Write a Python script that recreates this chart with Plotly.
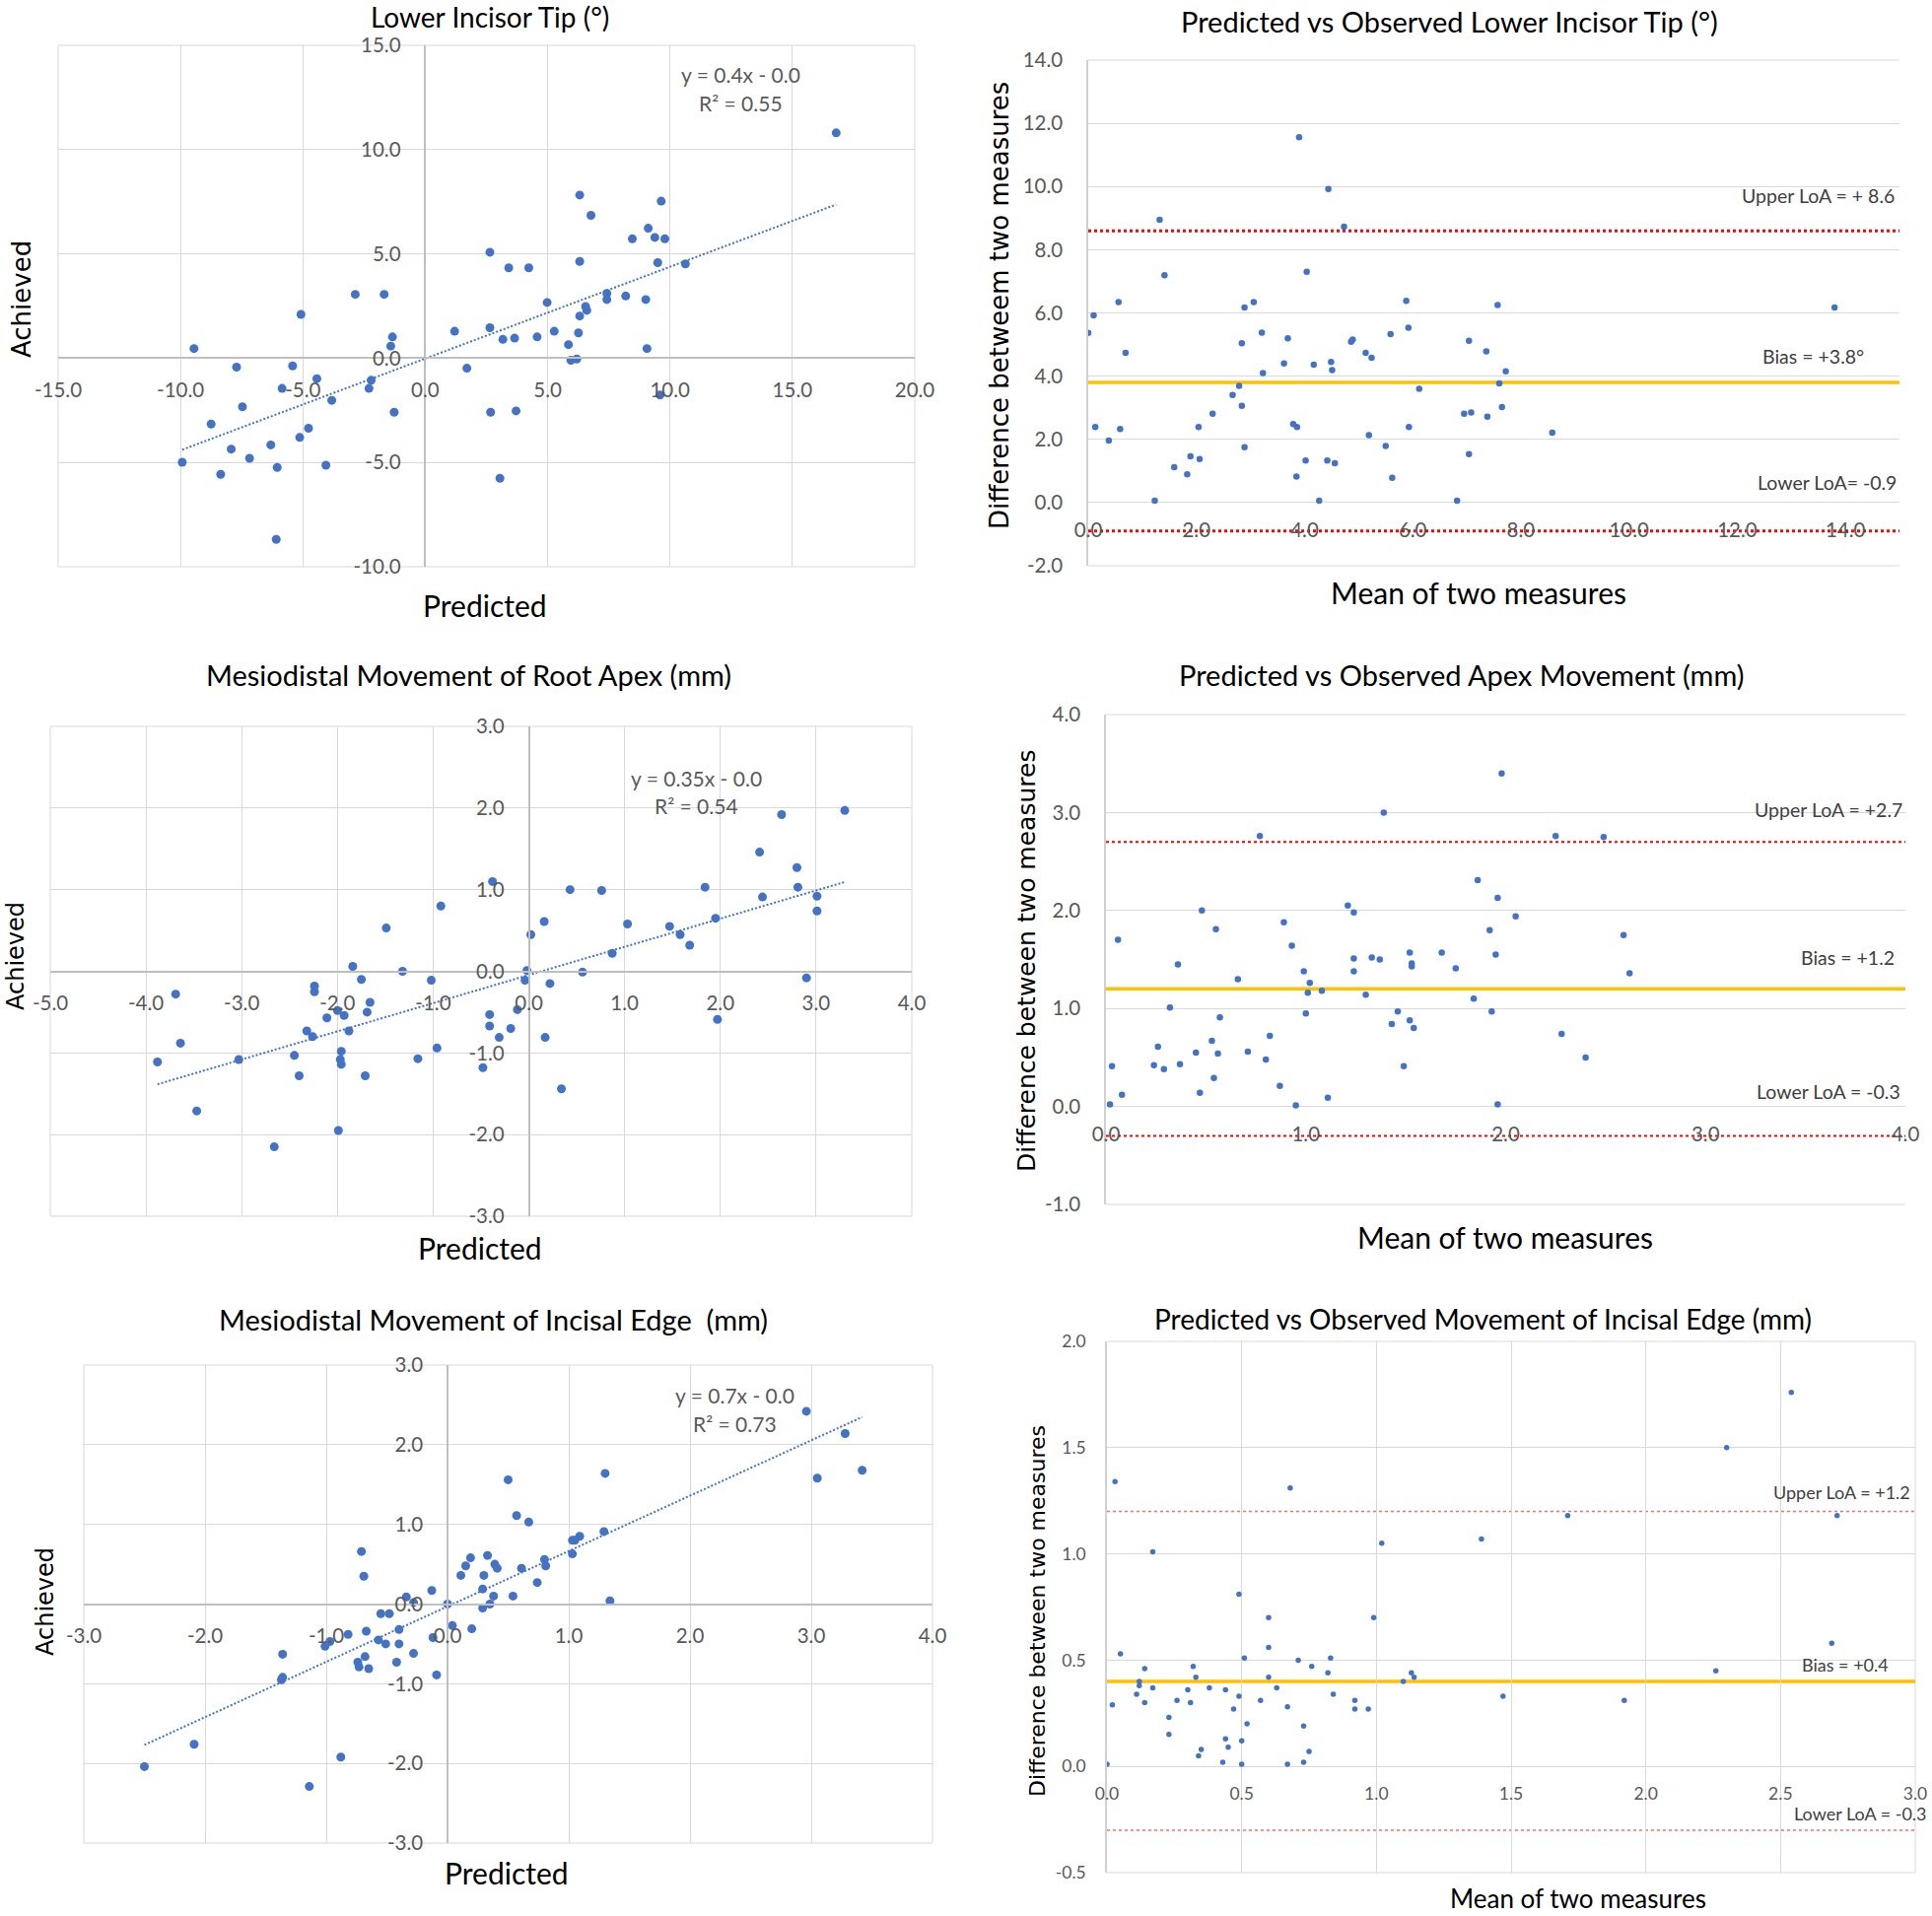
import plotly.graph_objects as go
import math

W, H = 1960, 1944

# ---------------- data ----------------
# Panel 1: Lower incisor tip (deg) - predicted vs achieved
tip_pred = [16.79, 6.31, 9.64, 6.77, 9.11, 8.46, 9.38, 9.79, 2.64, 6.31, 9.50, 10.63, 3.41, 4.23, -2.86, -1.68,
            7.42, 7.42, 8.19, 9.01, 4.98, 6.55, 6.60, 6.31, -5.08, 1.20, 2.64, 5.27, 6.26, -1.34, 3.17, 3.65,
            4.57, -1.41, 5.85, -9.45, 9.06, 5.95, 6.19, -7.71, -5.42, 1.70, -4.43, -2.21, -5.85, -2.30, -3.82,
            9.59, -7.47, -1.27, 2.67, 3.71, -8.75, -4.77, -5.13, -6.31, -7.93, -7.18, -9.93, -4.06, -6.05,
            -8.36, 3.05, -6.09]
tip_ach = [10.80, 7.82, 7.53, 6.85, 6.23, 5.72, 5.79, 5.72, 5.08, 4.64, 4.58, 4.52, 4.33, 4.33, 3.06, 3.06,
           3.10, 2.81, 2.98, 2.81, 2.67, 2.48, 2.29, 2.02, 2.10, 1.29, 1.46, 1.29, 1.21, 1.02, 0.90, 0.96,
           1.02, 0.58, 0.65, 0.46, 0.46, -0.10, -0.04, -0.43, -0.37, -0.48, -0.98, -1.06, -1.45, -1.45, -2.02,
           -1.77, -2.33, -2.59, -2.59, -2.53, -3.16, -3.36, -3.80, -4.16, -4.36, -4.80, -4.99, -5.13, -5.24,
           -5.57, -5.76, -8.69]
tip_trend = (0.44, -0.02)          # slope, intercept of the Excel trendline
tip_eq = ["y = 0.4x - 0.0", "R² = 0.55"]

# Panel 2: Bland-Altman lower incisor tip
tip_mean = [0.00, 0.10, 0.13, 0.38, 0.56, 0.59, 0.69, 1.23, 1.32, 1.41, 1.59, 1.83, 1.89, 2.04, 2.06, 2.30,
            2.67, 2.79, 2.84, 2.84, 2.89, 2.89, 3.06, 3.21, 3.23, 3.62, 3.69, 3.79, 3.86, 3.85, 3.90, 4.02,
            4.04, 4.17, 4.27, 4.42, 4.44, 4.49, 4.51, 4.56, 4.73, 4.86, 4.89, 5.13, 5.19, 5.24, 5.50, 5.59,
            5.62, 5.88, 5.92, 5.93, 6.12, 6.82, 6.95, 7.04, 7.04, 7.08, 7.36, 7.38, 7.57, 7.60, 7.65, 7.72,
            8.58, 13.80]
tip_diff = [5.37, 5.92, 2.39, 1.96, 6.34, 2.33, 4.74, 0.06, 8.95, 7.19, 1.12, 0.89, 1.46, 2.39, 1.38, 2.81,
            3.40, 3.69, 3.06, 5.04, 6.17, 1.75, 6.34, 5.38, 4.10, 4.40, 5.20, 2.48, 2.39, 0.82, 11.56, 1.33,
            7.30, 4.36, 0.06, 1.33, 9.92, 4.45, 4.19, 1.24, 8.73, 5.09, 5.16, 4.74, 2.13, 4.58, 1.79, 5.33,
            0.78, 6.38, 5.53, 2.39, 3.60, 0.06, 2.81, 5.12, 1.53, 2.85, 4.78, 2.72, 6.25, 3.77, 3.02, 4.15,
            2.21, 6.17]
tip_lines = {"upper": 8.6, "bias": 3.8, "lower": -0.9}
tip_labels = ["Upper LoA = + 8.6", "Bias = +3.8°", "Lower LoA= -0.9"]

# Panel 3: Mesiodistal movement of root apex (mm)
apex_pred = [3.30, 2.64, 2.41, 2.80, 1.84, 2.81, -0.38, 0.43, 0.76, 2.44, 3.01, 3.01, -0.92, -1.49, 0.16,
             1.95, 1.03, 1.47, 1.58, 0.02, 1.68, 0.87, -1.84, -1.32, -0.02, 0.56, -1.75, -1.02, -0.04, 0.22,
             2.90, -2.24, -2.24, -3.69, -1.66, -0.12, -2.00, -1.69, -1.93, -2.11, -0.41, 1.97, -0.41, -0.19,
             -2.32, -1.88, -2.26, -0.31, 0.17, -3.64, -0.96, -1.96, -2.45, -1.16, -1.97, -1.96, -3.88, -3.03,
             -0.48, -2.40, -1.71, 0.34, -3.47, -1.99, -2.66]
apex_ach = [1.97, 1.92, 1.46, 1.27, 1.03, 1.03, 1.10, 1.00, 0.99, 0.91, 0.92, 0.74, 0.80, 0.53, 0.61, 0.65,
            0.58, 0.55, 0.45, 0.45, 0.32, 0.22, 0.06, 0.00, 0.01, -0.01, -0.10, -0.11, -0.11, -0.15, -0.08,
            -0.18, -0.25, -0.28, -0.38, -0.47, -0.48, -0.50, -0.54, -0.57, -0.53, -0.59, -0.67, -0.70, -0.73,
            -0.73, -0.80, -0.81, -0.81, -0.88, -0.94, -0.98, -1.03, -1.07, -1.08, -1.14, -1.11, -1.08, -1.18,
            -1.28, -1.28, -1.44, -1.71, -1.95, -2.15]
apex_trend = (0.345, -0.045)
apex_eq = ["y = 0.35x - 0.0", "R² = 0.54"]

# Panel 4: Bland-Altman apex movement
apex_mean = [1.98, 1.39, 0.77, 2.25, 2.49, 1.86, 1.96, 1.21, 1.24, 0.48, 2.05, 0.89, 0.55, 1.92, 2.59, 0.06,
             0.93, 1.52, 1.68, 1.95, 1.33, 1.24, 1.37, 0.36, 1.53, 1.53, 1.75, 2.62, 0.99, 1.24, 0.66, 1.02,
             1.08, 1.01, 1.30, 1.84, 0.32, 1.46, 1.93, 1.00, 0.57, 1.52, 1.54, 1.43, 2.28, 0.82, 0.53, 0.26,
             0.45, 0.56, 0.71, 2.40, 0.80, 0.24, 0.37, 0.29, 0.03, 1.49, 0.54, 0.87, 0.47, 0.08, 1.11, 0.02,
             0.95, 1.96]
apex_diff = [3.40, 3.00, 2.76, 2.76, 2.75, 2.31, 2.13, 2.05, 1.98, 2.00, 1.94, 1.88, 1.81, 1.80, 1.75, 1.70,
             1.64, 1.57, 1.57, 1.55, 1.52, 1.51, 1.50, 1.45, 1.46, 1.43, 1.41, 1.36, 1.38, 1.38, 1.30, 1.26,
             1.18, 1.16, 1.14, 1.10, 1.01, 0.97, 0.97, 0.95, 0.91, 0.88, 0.80, 0.84, 0.74, 0.72, 0.67, 0.61,
             0.55, 0.54, 0.56, 0.50, 0.48, 0.42, 0.43, 0.38, 0.41, 0.41, 0.29, 0.21, 0.14, 0.12, 0.09, 0.02,
             0.01, 0.02]
apex_lines = {"upper": 2.7, "bias": 1.2, "lower": -0.3}
apex_labels = ["Upper LoA = +2.7", "Bias = +1.2", "Lower LoA = -0.3"]

# Panel 5: Mesiodistal movement of incisal edge (mm)
edge_pred = [2.96, 3.28, 3.42, 3.05, 1.30, 0.50, 0.57, 0.67, 1.09, 1.05, 1.03, 1.29, 1.03, -0.71, 0.19, 0.33,
             0.15, 0.39, 0.41, 0.61, 0.80, 0.81, 0.11, 0.30, -0.69, 0.74, -0.13, 0.29, 0.54, 0.38, -0.34, 1.34,
             -0.28, 0.00, 0.35, 0.29, -0.55, -0.48, 0.04, 0.20, -0.67, -0.40, -0.82, -0.12, -0.97, -0.57,
             -1.01, -0.51, -0.40, -0.28, -1.36, -0.68, -0.42, -0.74, -0.73, -0.65, -0.09, -1.36, -1.37, -2.09,
             -0.88, -2.50, -1.14]
edge_ach = [2.42, 2.14, 1.68, 1.58, 1.64, 1.56, 1.11, 1.03, 0.85, 0.80, 0.80, 0.91, 0.63, 0.66, 0.58, 0.61,
            0.48, 0.50, 0.45, 0.45, 0.56, 0.48, 0.36, 0.36, 0.35, 0.27, 0.17, 0.19, 0.10, 0.10, 0.09, 0.04,
            0.02, 0.00, 0.00, -0.05, -0.12, -0.12, -0.27, -0.31, -0.34, -0.32, -0.38, -0.42, -0.47, -0.45,
            -0.53, -0.50, -0.50, -0.62, -0.63, -0.66, -0.73, -0.73, -0.79, -0.81, -0.89, -0.92, -0.95, -1.76,
            -1.92, -2.04, -2.29]
edge_trend = (0.695, -0.03)
edge_eq = ["y = 0.7x - 0.0", "R² = 0.73"]

# Panel 6: Bland-Altman incisal edge
edge_mean = [2.54, 2.30, 0.03, 0.68, 1.71, 2.71, 1.39, 1.02, 0.17, 0.49, 0.60, 0.99, 2.69, 0.60, 0.05, 0.51,
             0.83, 0.71, 0.14, 0.32, 0.76, 2.26, 0.82, 1.13, 1.14, 0.33, 0.60, 0.12, 1.10, 0.12, 0.17, 0.38,
             0.63, 0.30, 0.44, 0.11, 0.84, 1.47, 0.49, 0.57, 0.92, 1.92, 0.26, 0.14, 0.31, 0.02, 0.67, 0.47,
             0.92, 0.97, 0.23, 0.52, 0.73, 0.23, 0.44, 0.50, 0.45, 0.35, 0.75, 0.34, 0.43, 0.73, 0.00, 0.50,
             0.67]
edge_diff = [1.76, 1.50, 1.34, 1.31, 1.18, 1.18, 1.07, 1.05, 1.01, 0.81, 0.70, 0.70, 0.58, 0.56, 0.53, 0.51,
             0.51, 0.50, 0.46, 0.47, 0.47, 0.45, 0.44, 0.44, 0.42, 0.42, 0.42, 0.40, 0.40, 0.38, 0.37, 0.37,
             0.37, 0.36, 0.36, 0.34, 0.34, 0.33, 0.33, 0.31, 0.31, 0.31, 0.31, 0.30, 0.30, 0.29, 0.28, 0.27,
             0.27, 0.27, 0.23, 0.20, 0.19, 0.15, 0.13, 0.12, 0.09, 0.08, 0.07, 0.05, 0.02, 0.02, 0.01, 0.01,
             0.01]
edge_lines = {"upper": 1.2, "bias": 0.4, "lower": -0.3}
edge_labels = ["Upper LoA = +1.2", "Bias = +0.4", "Lower LoA = -0.3"]

titles = ["Lower Incisor Tip (°)", "Predicted vs Observed Lower Incisor Tip (°)",
          "Mesiodistal Movement of Root Apex (mm)", "Predicted vs Observed Apex Movement (mm)",
          "Mesiodistal Movement of Incisal Edge  (mm)", "Predicted vs Observed Movement of Incisal Edge (mm)"]

# ---------------- helpers ----------------
def px(x):
    return x / W

def py(y):
    return 1 - y / H

def dom_x(a, b):
    return [px(a), px(b)]

def dom_y(top, bottom):
    return [py(bottom), py(top)]

def zero_pos(domain, rng):
    return domain[0] + (0 - rng[0]) / (rng[1] - rng[0]) * (domain[1] - domain[0])

def tick_list(rng, dt):
    k0 = math.ceil(rng[0] / dt - 1e-9)
    k1 = math.floor(rng[1] / dt + 1e-9)
    vals = [round(k * dt, 6) for k in range(k0, k1 + 1)]
    text = [f"{v + 0.0:.1f}" for v in vals]
    return vals, text

def sid(i):
    return "" if i == 1 else str(i)

BLUE = "#4472C4"
GRID = "#D9D9D9"
TICK = "#595959"
TXT = "Lato, Arial, sans-serif"
WIDE = "DejaVu Sans, Verdana, sans-serif"

fig = go.Figure()
annotations = []
shapes = []

# panel geometry in page pixels: (left, right, top, bottom)
geo = {
    1: (59, 928, 46, 575),
    2: (1104, 1927, 61, 574),
    3: (51, 925, 737, 1234),
    4: (1122, 1933, 725, 1222),
    5: (85, 946, 1385, 1870),
    6: (1123, 1943, 1361, 1900),
}
ranges = {
    1: ([-15, 20], [-10, 15], 5, 5),
    2: ([0, 15], [-2, 14], 2, 2),
    3: ([-5, 4], [-3, 3], 1, 1),
    4: ([0, 4], [-1, 4], 1, 1),
    5: ([-3, 4], [-3, 3], 1, 1),
    6: ([0, 3], [-0.5, 2.0], 0.5, 0.5),
}

layout_axes = {}

def edge_line(i, x0, x1, y0, y1, color=GRID):
    s = sid(i)
    shapes.append(dict(type="line", xref=f"x{s} domain", yref=f"y{s} domain", x0=x0, x1=x1, y0=y0, y1=y1,
                       layer="below", line=dict(color=color, width=1)))


def scatter_panel(i, xs, ys, trend, eq, eq_pos, tick_size=20.5):
    s = sid(i)
    l, r, t, b = geo[i]
    xr, yr, dx, dy = ranges[i]
    xd, yd = dom_x(l, r), dom_y(t, b)
    xv, xt = tick_list(xr, dx)
    yv, ytx = tick_list(yr, dy)
    layout_axes[f"xaxis{s}"] = dict(domain=xd, range=xr, tickmode="array", tickvals=xv, ticktext=xt,
                                    showgrid=True, gridcolor=GRID, gridwidth=1, zeroline=False,
                                    showline=True, linecolor="#BFBFBF", linewidth=1.5,
                                    anchor="free", position=zero_pos(yd, yr), side="bottom",
                                    ticks="", ticklabelstandoff=14, automargin=False,
                                    tickfont=dict(family=TXT, size=tick_size, color=TICK))
    layout_axes[f"yaxis{s}"] = dict(domain=yd, range=yr, tickmode="array", tickvals=yv, ticktext=ytx,
                                    showgrid=True, gridcolor=GRID, gridwidth=1, zeroline=False,
                                    showline=True, linecolor="#BFBFBF", linewidth=1.5,
                                    anchor="free", position=zero_pos(xd, xr), side="left",
                                    ticks="", ticklabelstandoff=20, automargin=False,
                                    tickfont=dict(family=TXT, size=tick_size, color=TICK))
    # plot-area edge gridlines (plotly skips grid lines at range ends)
    edge_line(i, 0, 1, 0, 0)
    edge_line(i, 0, 1, 1, 1)
    edge_line(i, 0, 0, 0, 1)
    edge_line(i, 1, 1, 0, 1)
    # trendline drawn over the predicted range
    x0, x1 = min(xs), max(xs)
    fig.add_trace(go.Scatter(x=[x0, x1], y=[trend[0] * x0 + trend[1], trend[0] * x1 + trend[1]],
                             mode="lines", line=dict(color=BLUE, width=2, dash="2px,2px"),
                             xaxis=f"x{s}", yaxis=f"y{s}", showlegend=False, hoverinfo="skip"))
    fig.add_trace(go.Scatter(x=xs, y=ys, mode="markers",
                             marker=dict(color=BLUE, size=9, line=dict(width=0)),
                             xaxis=f"x{s}", yaxis=f"y{s}", showlegend=False))
    ex, ey1, ey2 = eq_pos
    for txt, ey in zip(eq, (ey1, ey2)):
        annotations.append(dict(x=ex, y=ey, xref=f"x{s}", yref=f"y{s}", text=txt, showarrow=False,
                                font=dict(family=TXT, size=21, color="#595959")))


def ba_panel(i, xs, ys, lines, labels, label_pos, msize=6.5, tick_size=20.5, vgrid=False,
             loa_width=3, loa_color="#FF0000", label_size=19.5, standoff_x=14, standoff_y=20):
    s = sid(i)
    l, r, t, b = geo[i]
    xr, yr, dx, dy = ranges[i]
    xd, yd = dom_x(l, r), dom_y(t, b)
    xv, xt = tick_list(xr, dx)
    yv, ytx = tick_list(yr, dy)
    layout_axes[f"xaxis{s}"] = dict(domain=xd, range=xr, tickmode="array", tickvals=xv, ticktext=xt,
                                    showgrid=vgrid, gridcolor=GRID, gridwidth=1, zeroline=False,
                                    showline=False, anchor="free", position=zero_pos(yd, yr), side="bottom",
                                    ticks="", ticklabelstandoff=standoff_x, automargin=False,
                                    tickfont=dict(family=TXT, size=tick_size, color=TICK))
    layout_axes[f"yaxis{s}"] = dict(domain=yd, range=yr, tickmode="array", tickvals=yv, ticktext=ytx,
                                    showgrid=True, gridcolor=GRID, gridwidth=1, zeroline=False,
                                    showline=True, linecolor="#D0D0D0", linewidth=1.5,
                                    anchor=f"x{s}", side="left", ticks="", ticklabelstandoff=standoff_y,
                                    automargin=False,
                                    tickfont=dict(family=TXT, size=tick_size, color=TICK))
    edge_line(i, 0, 1, 0, 0)
    edge_line(i, 0, 1, 1, 1)
    if vgrid:
        edge_line(i, 1, 1, 0, 1)
    for key in ("upper", "lower"):
        shapes.append(dict(type="line", xref=f"x{s} domain", yref=f"y{s}", x0=0, x1=1,
                           y0=lines[key], y1=lines[key], layer="below",
                           line=dict(color=loa_color, width=loa_width, dash="3px,3px")))
    shapes.append(dict(type="line", xref=f"x{s} domain", yref=f"y{s}", x0=0, x1=1,
                       y0=lines["bias"], y1=lines["bias"], layer="below",
                       line=dict(color="#FFC000", width=3.5)))
    fig.add_trace(go.Scatter(x=xs, y=ys, mode="markers",
                             marker=dict(color=BLUE, size=msize, line=dict(width=0)),
                             xaxis=f"x{s}", yaxis=f"y{s}", showlegend=False))
    for text, (xpix, yval) in zip(labels, label_pos):
        annotations.append(dict(x=px(xpix), y=yval, xref="paper", yref=f"y{s}", text=text,
                                showarrow=False, xanchor="right",
                                font=dict(family=TXT, size=label_size, color="#404040")))


scatter_panel(1, tip_pred, tip_ach, tip_trend, tip_eq, (12.9, 13.6, 12.25))
ba_panel(2, tip_mean, tip_diff, tip_lines, tip_labels,
         [(1924, 9.7), (1893, 4.62), (1926, 0.62)])
scatter_panel(3, apex_pred, apex_ach, apex_trend, apex_eq, (1.75, 2.37, 2.03))
ba_panel(4, apex_mean, apex_diff, apex_lines, apex_labels,
         [(1932, 3.03), (1924, 1.52), (1930, 0.15)], loa_width=2)
scatter_panel(5, edge_pred, edge_ach, edge_trend, edge_eq, (2.37, 2.62, 2.26))
ba_panel(6, edge_mean, edge_diff, edge_lines, edge_labels,
         [(1940, 1.29), (1918, 0.48), (1957, -0.22)], msize=5.5, tick_size=17.5, vgrid=True,
         loa_width=1.5, loa_color="#FF6B6B", label_size=18, standoff_x=15, standoff_y=16)

# titles
title_pos = [(497, 17), (1470, 21), (475, 684), (1483, 684), (500, 1338), (1504, 1338)]
title_sizes = [28, 29, 29, 29, 29, 28]
for text, (xx, yy), sz in zip(titles, title_pos, title_sizes):
    annotations.append(dict(x=px(xx), y=py(yy), xref="paper", yref="paper", text=text, showarrow=False,
                            xanchor="center", yanchor="middle", font=dict(family=TXT, size=sz, color="#000000")))

# x axis titles
xt_list = [("Predicted", 492, 614, 30), ("Mean of two measures", 1500, 601, 30),
           ("Predicted", 487, 1266, 30), ("Mean of two measures", 1527, 1255, 30),
           ("Predicted", 514, 1900, 30), ("Mean of two measures", 1601, 1926, 26)]
for text, xx, yy, sz in xt_list:
    annotations.append(dict(x=px(xx), y=py(yy), xref="paper", yref="paper", text=text, showarrow=False,
                            xanchor="center", yanchor="middle", font=dict(family=TXT, size=sz, color="#000000")))

# y axis titles
yt_list = [("Achieved", 22, 304, 26), ("Difference betweem two measures", 1014, 310, 26),
           ("Achieved", 16, 970, 24), ("Difference between two measures", 1041, 975, 25),
           ("Achieved", 46, 1625, 24), ("Difference between two measures", 1052, 1635, 22)]
for text, xx, yy, sz in yt_list:
    annotations.append(dict(x=px(xx), y=py(yy), xref="paper", yref="paper", text=text, showarrow=False,
                            textangle=-90, xanchor="center", yanchor="middle",
                            font=dict(family=WIDE, size=sz, color="#000000")))

fig.update_layout(width=W, height=H, margin=dict(l=0, r=0, t=0, b=0, autoexpand=False),
                  paper_bgcolor="white", plot_bgcolor="white",
                  annotations=annotations, shapes=shapes, **layout_axes)

fig.write_html("out.html", config={"displayModeBar": False},
               post_script="document.body.style.margin='0px';")
